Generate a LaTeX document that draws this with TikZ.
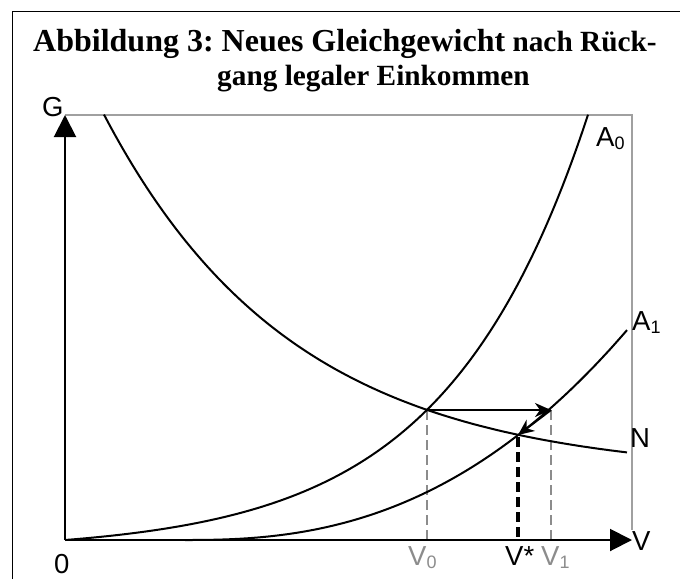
\documentclass[tikz,border=0pt]{standalone}
\usepackage{fontspec}
\setmainfont{Liberation Sans}
\newfontfamily\titlefont{Liberation Serif}
\usetikzlibrary{arrows.meta}
\definecolor{dgray}{RGB}{140,140,140}
\definecolor{fgray}{RGB}{160,160,160}
\tikzset{
  curve/.style={line width=2pt,black},
  axisline/.style={line width=2pt,black,-{Triangle[length=22pt,width=22pt]}},
  frameline/.style={line width=1.6pt,black},
  boxline/.style={line width=1.7pt,fgray},
  guide/.style={line width=2.8pt,dgray,dash pattern=on 10pt off 5pt},
  guideblack/.style={line width=4pt,black,dash pattern=on 10pt off 5pt},
  movearrow/.style={line width=2pt,black,-{Stealth[length=16pt,width=14pt,inset=5pt]}},
  lbl/.style={inner sep=0pt,anchor=base west,font=\fontsize{27.5}{30}\selectfont},
  ttl/.style={inner sep=0pt,anchor=base west,font=\titlefont\bfseries\frenchspacing},
}
\newcommand{\sbs}[1]{\raisebox{-3pt}{\fontsize{18}{20}\selectfont #1}}
\newcommand{\bigt}{\fontsize{32}{34}\selectfont}
\newcommand{\smallt}{\fontsize{29.3}{32}\selectfont}
\begin{document}
\begin{tikzpicture}[x=1pt,y=1pt]
\useasboundingbox (0,0) rectangle (680,-579);
% outer frame
\coordinate (FL) at (12.5,-579);
\coordinate (FTL) at (12.5,-11.5);
\coordinate (FTR) at (680,-11.5);
\draw[frameline] (FL) -- (FTL) -- (FTR);
% title
\node[ttl] (t1) at (33,-51) {\bigt Abbildung 3: Neues Gleichgewicht\smallt{} nach R\"uck-};
\node[ttl] (t2) at (217,-85) {\smallt gang legaler Einkommen};
% key points
\coordinate (O) at (65,-540);
\coordinate (Ytop) at (65,-115);
\coordinate (Xend) at (632,-540);
\coordinate (BTR) at (632,-115);
\coordinate (E0) at (427,-410);
\coordinate (E1) at (551,-410);
\coordinate (Es) at (518,-435);
\coordinate (B0) at (427,-540);
\coordinate (B1) at (551,-540);
\coordinate (Bs) at (518,-540);
\coordinate (Es2) at (518,-437);
% gray box lines
\draw[boxline] (Ytop) -- (BTR) -- (632,-530);
% guides
\draw[guide] (E0) -- (B0);
\draw[guide] (E1) -- (B1);
\draw[guideblack] (Es2) -- (Bs);
% curves
\draw[curve] plot[domain=0:523,samples=120,smooth] ({65+\x},{-540+11.2*(exp(0.007*\x)-1)});
\draw[curve] plot[domain=120:562,samples=120,smooth] ({65+\x},{-540+48*((\x-120)/242)^2.45});
\draw[curve] plot[domain=39:562,samples=120,smooth] ({65+\x},{-540+65+443*exp(-0.0053*\x)});
% axes
\draw[axisline] (O) -- (Ytop);
\draw[axisline] (O) -- (Xend);
% movement arrows
\draw[movearrow] (E0) -- (E1);
\draw[movearrow] (E1) -- (Es);
% labels
\node[lbl] (G) at (42,-116) {G};
\node[lbl] (zero) at (54,-573) {0};
\node[lbl] (V) at (632,-550) {V};
\node[lbl] (N) at (630,-447) {N};
\node[lbl] (A0) at (596,-146) {A\sbs{0}};
\node[lbl] (A1) at (632,-330) {A\sbs{1}};
\node[lbl,text=dgray] (V0) at (408,-565) {V\sbs{0}};
\node[lbl] (Vs) at (505,-565) {V*};
\node[lbl,text=dgray] (V1) at (541,-565) {V\sbs{1}};
\end{tikzpicture}
\end{document}
